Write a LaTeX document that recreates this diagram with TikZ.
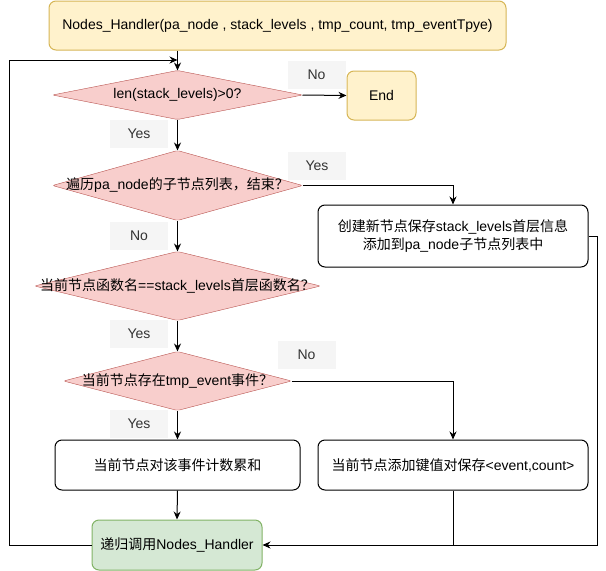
\documentclass[tikz,border=0pt]{standalone}
\usepackage{fontspec}
\setmainfont{Liberation Sans}
\newfontfamily\cjk{Noto Sans CJK SC}
\usetikzlibrary{arrows.meta,backgrounds}
\definecolor{yfill}{HTML}{FFF2CC}
\definecolor{ydraw}{HTML}{D6B656}
\definecolor{rfill}{HTML}{F8CECC}
\definecolor{rdraw}{HTML}{B85450}
\definecolor{gfill}{HTML}{D5E8D4}
\definecolor{gdraw}{HTML}{82B366}
\definecolor{lfill}{HTML}{F5F5F5}
\definecolor{ltext}{HTML}{333333}
\newcommand\zh[1]{{\cjk #1}}
\begin{document}
\begin{tikzpicture}[x=1pt,y=-1pt,
  font=\fontsize{14}{17}\selectfont,
  line width=1pt,
  arr/.style={-{Stealth[length=8pt,width=7pt]}},
  ybox/.style={rectangle, rounded corners=7pt, draw=ydraw, fill=yfill, inner sep=0pt},
  wbox/.style={rectangle, rounded corners=7pt, draw=black, fill=white, inner sep=0pt, align=center},
  gbox/.style={rectangle, rounded corners=7pt, draw=gdraw, fill=gfill, inner sep=0pt},
  dtext/.style={rectangle, inner sep=0pt},
  dia/.style={draw=rdraw, fill=rfill, rounded corners=2pt},
  lbl/.style={rectangle, fill=lfill, text=ltext, minimum width=58pt, minimum height=28pt, inner sep=0pt}
]
\useasboundingbox (0,0) rectangle (606,571);

\node[ybox, minimum width=457pt, minimum height=49pt] (start) at (277.5,25.5)
  {Nodes\_Handler(pa\_node , stack\_levels , tmp\_count, tmp\_eventTpye)};

\node[dtext, minimum width=249pt, minimum height=48pt] (d1) at (177.5,95) {len(stack\_levels)>0?};
\node[dtext, minimum width=249pt, minimum height=69pt] (d2) at (177.5,185.5) {\zh{遍历}pa\_node\zh{的子节点列表，结束？}};
\node[dtext, minimum width=285pt, minimum height=68pt] (d3) at (177.5,286) {\zh{当前节点函数名}==stack\_levels\zh{首层函数名？}};
\node[dtext, minimum width=227pt, minimum height=58pt] (d4) at (177.5,381) {\zh{当前节点存在}tmp\_event\zh{事件？}};

\begin{scope}[on background layer]
  \foreach \d in {d1,d2,d3,d4}
    \draw[dia] (\d.north) -- (\d.east) -- (\d.south) -- (\d.west) -- cycle;
\end{scope}

\node[ybox, minimum width=69pt, minimum height=49pt] (end) at (381.5,95.5) {End};
\node[wbox, minimum width=270pt, minimum height=62pt] (create) at (453,236)
  {\zh{创建新节点保存}stack\_levels\zh{首层信息}\\[1pt]\zh{添加到}pa\_node\zh{子节点列表中}};
\node[wbox, minimum width=245pt, minimum height=50pt] (bleft) at (177.5,465) {\zh{当前节点对该事件计数累和}};
\node[wbox, minimum width=270pt, minimum height=50pt] (bright) at (453,465) {\zh{当前节点添加键值对保存}<event,count>};
\node[gbox, minimum width=170pt, minimum height=50pt] (rec) at (177,545) {\zh{递归调用}Nodes\_Handler};

\node[lbl] (no1) at (316.5,75) {No};
\node[lbl] (yes1) at (139,133.5) {Yes};
\node[lbl] (yes2) at (317,166) {Yes};
\node[lbl] (no2) at (139,235.5) {No};
\node[lbl] (yes3) at (139,334) {Yes};
\node[lbl] (no3) at (306.5,355) {No};
\node[lbl] (yes4) at (139,424) {Yes};

\coordinate (lp) at (9,60);

\draw[arr] (start.south -| d1.north) -- (d1.north);
\draw[arr] (rec.west) -- (rec.west -| lp) -- (lp) -- (lp -| d1.north);
\draw[arr] (d1.east) -- (end.west);
\draw[arr] (d1.south) -- (d2.north);
\draw[arr] (d2.east) -| (create.north);
\draw[arr] (d2.south) -- (d3.north);
\draw[arr] (d3.south) -- (d4.north);
\draw[arr] (d4.east) -| (bright.north);
\draw[arr] (d4.south) -- (bleft.north);
\draw[arr] (bleft.south) -- (rec.north);
\draw[arr] (create.east) -- ++(9,0) |- (rec.east);
\draw (bright.south) -- (bright.south |- rec.east);
\end{tikzpicture}
\end{document}
